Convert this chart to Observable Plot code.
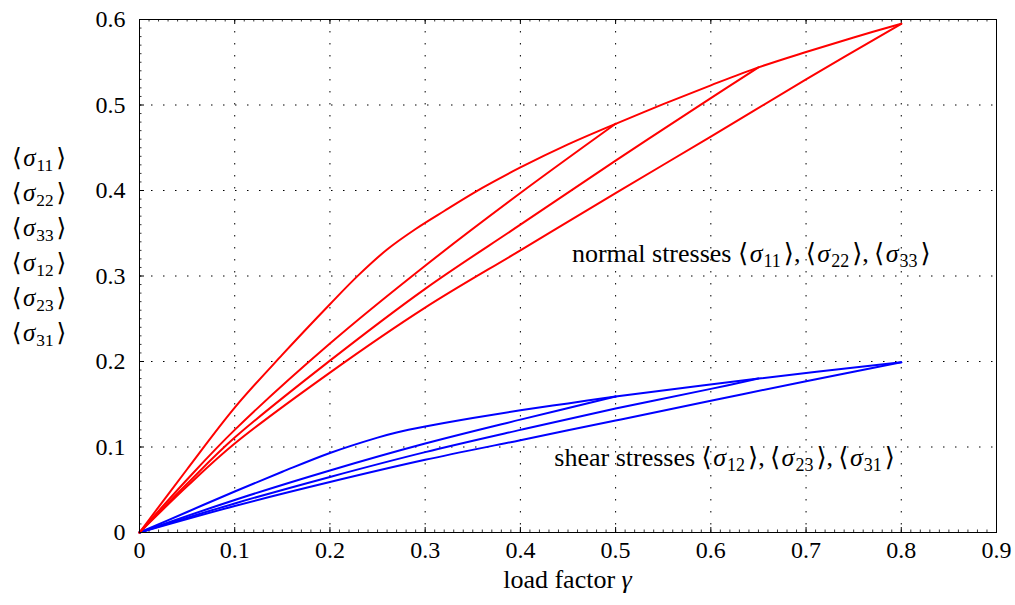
<!DOCTYPE html>
<html>
<head>
<meta charset="utf-8">
<script src="https://cdn.jsdelivr.net/npm/d3@7"></script>
<script src="https://cdn.jsdelivr.net/npm/@observablehq/plot@0.6"></script>
<style>
  html, body { margin: 0; padding: 0; background: #fff; }
  #chart svg { display: block; }
</style>
</head>
<body>
<div id="chart"></div>
<script>
// ---- tick values ----
const xTickValues = [0, 0.1, 0.2, 0.3, 0.4, 0.5, 0.6, 0.7, 0.8, 0.9];
const yTickValues = [0, 0.1, 0.2, 0.3, 0.4, 0.5, 0.6];
const xMinorTicks = d3.range(0, 91).map(i => i / 100);
const yMinorTicks = d3.range(0, 61).map(i => i / 100);

// ---- normal stresses (red) ----
const normalLoadX = [0, 0.05, 0.1, 0.15, 0.2, 0.23, 0.26, 0.29, 0.32, 0.36, 0.4, 0.45, 0.5];
const normalLoadY = [0, 0.074, 0.146, 0.208, 0.267, 0.301, 0.331, 0.355, 0.376, 0.403, 0.427, 0.454, 0.478];
const normalCycle1X = [0, 0.05, 0.1, 0.2, 0.3, 0.4, 0.5];
const normalCycle1Y = [0, 0.062, 0.12, 0.221, 0.312, 0.397, 0.478];
const normalReloadX = [0.5, 0.55, 0.6, 0.65, 0.7, 0.75, 0.8];
const normalReloadY = [0.478, 0.501, 0.523, 0.544, 0.562, 0.579, 0.595];
const normalCycle2X = [0, 0.05, 0.1, 0.2, 0.3, 0.4, 0.5, 0.6, 0.65];
const normalCycle2Y = [0, 0.057, 0.111, 0.201, 0.285, 0.360, 0.435, 0.508, 0.544];
const normalCycle3X = [0, 0.05, 0.1, 0.2, 0.3, 0.4, 0.5, 0.6, 0.7, 0.8];
const normalCycle3Y = [0, 0.054, 0.104, 0.187, 0.263, 0.330, 0.397, 0.463, 0.530, 0.595];

// ---- shear stresses (blue) ----
const shearLoadX = [0, 0.05, 0.1, 0.15, 0.2, 0.25, 0.27, 0.3, 0.35, 0.4, 0.45, 0.5];
const shearLoadY = [0, 0.024, 0.048, 0.071, 0.093, 0.111, 0.117, 0.124, 0.134, 0.143, 0.151, 0.159];
const shearReloadX = [0.5, 0.65, 0.8];
const shearReloadY = [0.159, 0.180, 0.199];
const shearCycle1X = [0, 0.1, 0.2, 0.3, 0.4, 0.5];
const shearCycle1Y = [0, 0.038, 0.0725, 0.104, 0.132, 0.159];
const shearCycle2X = [0, 0.1, 0.2, 0.3, 0.4, 0.5, 0.6, 0.65];
const shearCycle2Y = [0, 0.034, 0.065, 0.094, 0.12, 0.145, 0.168, 0.18];
const shearCycle3X = [0, 0.1, 0.2, 0.3, 0.4, 0.5, 0.6, 0.7, 0.8];
const shearCycle3Y = [0, 0.031, 0.059, 0.085, 0.108, 0.131, 0.154, 0.177, 0.199];

// ---- text ----
const yAxisSubscripts = ["11", "22", "33", "12", "23", "31"];
const normalLabelSubs = ["11", "22", "33"];
const shearLabelSubs = ["12", "23", "31"];
const normalLabelPos = [0.643, 0.316];
const shearLabelPos = [0.615, 0.077];
const xAxisTitle = "load factor ";

// build tables
function series(name, xs, ys) { return xs.map((x, i) => ({name, x, y: ys[i]})); }
const redData = [
  ...series("load", normalLoadX, normalLoadY),
  ...series("c1", normalCycle1X, normalCycle1Y),
  ...series("re", normalReloadX, normalReloadY),
  ...series("c2", normalCycle2X, normalCycle2Y),
  ...series("c3", normalCycle3X, normalCycle3Y)
];
const blueData = [
  ...series("load", shearLoadX, shearLoadY),
  ...series("c1", shearCycle1X, shearCycle1Y),
  ...series("re", shearReloadX, shearReloadY),
  ...series("c2", shearCycle2X, shearCycle2Y),
  ...series("c3", shearCycle3X, shearCycle3Y)
];

const frameW = 1015 - 139 - 19;
const frameH = 605 - 19 - 73;
const grid = {stroke: "#000", strokeOpacity: 1, strokeWidth: 1, strokeDasharray: "1.5,10.5"};
const FONT = "'Liberation Serif', 'DejaVu Serif', serif";
const FS = 24;      // tick labels
const TFS = 26;     // titles / annotations
const SUBFS = 18;   // subscripts

const chart = Plot.plot({
  width: 1015,
  height: 605,
  marginLeft: 139,
  marginRight: 19,
  marginTop: 19,
  marginBottom: 73,
  x: {domain: [0, 0.9]},
  y: {domain: [0, 0.6]},
  style: {fontFamily: FONT, fontSize: FS + "px", background: "#fff", color: "#000"},
  marks: [
    Plot.gridX(xTickValues, grid),
    Plot.gridY(yTickValues, grid),
    // minor ticks
    Plot.tickX(xMinorTicks, {x: d => d, insetTop: frameH - 2.5, stroke: "#000", strokeWidth: 0.8}),
    Plot.tickX(xMinorTicks, {x: d => d, insetBottom: frameH - 2.5, stroke: "#000", strokeWidth: 0.8}),
    Plot.tickY(yMinorTicks, {y: d => d, insetRight: frameW - 2.5, stroke: "#000", strokeWidth: 0.8}),
    // major ticks
    Plot.tickX(xTickValues, {x: d => d, insetTop: frameH - 5, stroke: "#000"}),
    Plot.tickX(xTickValues, {x: d => d, insetBottom: frameH - 5, stroke: "#000"}),
    Plot.tickY(yTickValues, {y: d => d, insetRight: frameW - 5, stroke: "#000"}),
    Plot.axisX(xTickValues, {tickSize: 0, tickPadding: 8, label: null, tickFormat: d3.format("~g"), fontSize: FS}),
    Plot.axisY(yTickValues, {tickSize: 0, tickPadding: 14, label: null, tickFormat: d3.format("~g"), fontSize: FS}),
    Plot.line(blueData, {x: "x", y: "y", z: "name", stroke: "#0000ff", strokeWidth: 2, curve: "catmull-rom"}),
    Plot.line(redData, {x: "x", y: "y", z: "name", stroke: "#ff0000", strokeWidth: 2, curve: "catmull-rom"}),
    Plot.frame({stroke: "#000", strokeWidth: 1})
  ]
});
document.getElementById("chart").appendChild(chart);

// ---- math-like text ----
const svg = d3.select(chart);
const sx = chart.scale("x"), sy = chart.scale("y");

function addBracketSigma(t, sub, fs) {
  t.append("tspan").text("\u27E8");
  t.append("tspan").attr("dx", 1.5).attr("font-style", "italic").text("\u03C3");
  t.append("tspan").attr("dx", 1).attr("font-size", SUBFS * fs / TFS).attr("dy", 5).text(sub);
  t.append("tspan").attr("dx", 3).attr("dy", -5).text("\u27E9");
}
function addLabel(x, y, prefix, subs, anchor, fs) {
  const t = svg.append("text").attr("x", x).attr("y", y)
    .attr("font-family", FONT).attr("font-size", fs).attr("fill", "#000")
    .attr("text-anchor", anchor);
  if (prefix) t.append("tspan").text(prefix);
  subs.forEach((s, i) => {
    addBracketSigma(t, s, fs);
    if (i < subs.length - 1) t.append("tspan").text(",\u2009");
  });
  return t;
}

addLabel(sx.apply(normalLabelPos[0]), sy.apply(normalLabelPos[1]), "normal stresses ", normalLabelSubs, "middle", TFS);
addLabel(sx.apply(shearLabelPos[0]), sy.apply(shearLabelPos[1]), "shear stresses ", shearLabelSubs, "middle", TFS);

// stacked y-axis label
yAxisSubscripts.forEach((s, i) => {
  addLabel(39, 166 + i * 35, "", [s], "middle", 25);
});

// x-axis title
const xt = svg.append("text")
  .attr("x", (sx.apply(0) + sx.apply(0.9)) / 2)
  .attr("y", 588)
  .attr("font-family", FONT).attr("font-size", TFS).attr("fill", "#000")
  .attr("text-anchor", "middle");
xt.append("tspan").text(xAxisTitle);
xt.append("tspan").attr("font-style", "italic").text("\u03B3");
</script>
</body>
</html>
